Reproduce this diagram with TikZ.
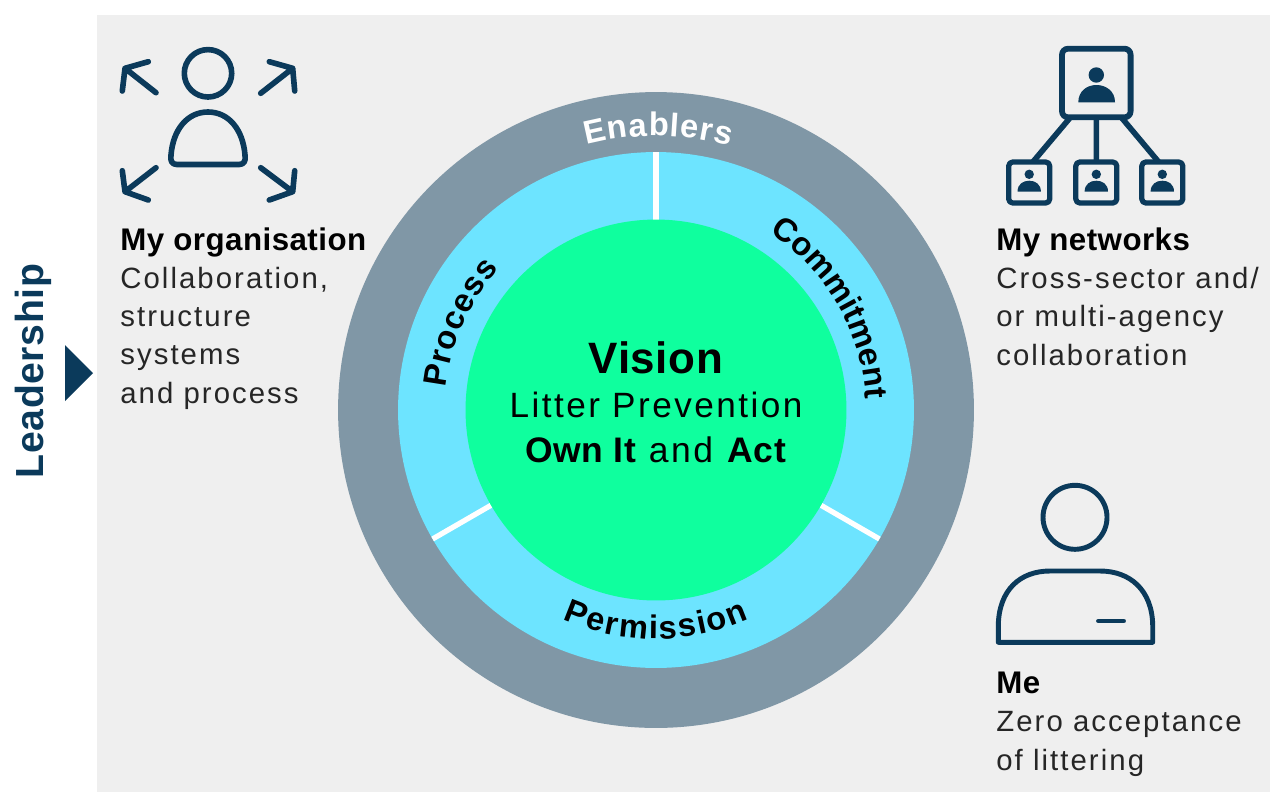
\documentclass[tikz,border=0pt]{standalone}
\usepackage{fontspec}
\setmainfont{Liberation Sans}[LetterSpace=7,BoldFeatures={LetterSpace=1.5}]
\usetikzlibrary{decorations.text}
\definecolor{panelgrey}{HTML}{EFEFEF}
\definecolor{ringgrey}{HTML}{8097A6}
\definecolor{ringblue}{HTML}{6DE4FF}
\definecolor{coregreen}{HTML}{0FFF9E}
\definecolor{icondark}{HTML}{0B3A5B}
\newfontfamily\ringfont{Liberation Sans Bold}
\newcommand\ringtext{\ringfont\fontsize{18.6}{20}\selectfont}
\newcommand\headtext{\color{black}\bfseries\fontsize{17.8}{21.7}\selectfont}
\tikzset{
	ring/.style={circle,minimum size=#1,inner sep=0pt,outer sep=0pt},
	blocktext/.style={anchor=base west,align=left,inner sep=0pt,text=black!85,font=\fontsize{16.7}{21.7}\selectfont},
	midtext/.style={anchor=base,inner sep=0pt,text=black,font=\fontsize{20}{24}\selectfont},
	iconline/.style={draw=icondark,line width=3.2pt},
	bigbox/.style={iconline,line width=3.3pt,fill=panelgrey,rounded corners=.12cm,minimum size=1.372cm,inner sep=0pt,outer sep=0pt},
	smallbox/.style={iconline,line width=3pt,rounded corners=.08cm,minimum size=.82cm,inner sep=0pt,outer sep=0pt},
	divider/.style={draw=white,line width=3pt,line cap=butt}
}
\begin{document}
\begin{tikzpicture}[x=.02cm,y=-.02cm,line join=round,line cap=round]
	\useasboundingbox (0,0) rectangle (1270,792);
	\fill[panelgrey] (97,15) rectangle (1270,792);
	% rings
	\node[ring=12.72cm,fill=ringgrey] (enablers) at (656,410) {};
	\node[ring=10.32cm,fill=ringblue] (enablerfield) at (656,410) {};
	\foreach \i/\j in {90/a,210/b,330/c}{
		\coordinate (div\j) at (enablerfield.\i);
	}
	\node[ring=7.62cm] (vision) at (656,410) {};
	\foreach \j/\i in {a/90,b/210,c/330}{
		\draw[divider] (vision.\i)--(div\j);
	}
	\node[ring=7.62cm,fill=coregreen] at (656,410) {};
	\begin{scope}[shift={(vision.center)},y=.02cm]
		\path[decorate,decoration={text along path,text align=fit to path,text={|\ringtext\color{white}|Enablers}}]
			(104.7:274) arc[start angle=104.7,end angle=74.3,radius=274];
		\path[decorate,decoration={text along path,text align=fit to path,text={|\ringtext\color{black}|Process}}]
			(174:211) arc[start angle=174,end angle=138,radius=211];
		\path[decorate,decoration={text along path,text align=fit to path,text={|\ringtext\color{black}|Commitment}}]
			(57.5:210) arc[start angle=57.5,end angle=3,radius=210];
		\path[decorate,decoration={text along path,text align=fit to path,text={|\ringtext\color{black}|Permission}}]
			(246:229) arc[start angle=246,end angle=294,radius=229];
	\end{scope}
	\node[midtext,font=\bfseries\fontsize{25}{28}\selectfont] (visiontitle) at (656,373) {Vision};
	\node[midtext] (visionline) at (656,417) {Litter Prevention};
	\node[midtext,font=\fontsize{20.2}{24}\selectfont] (visionact) at (656,462) {\textbf{Own It} and \textbf{Act}};
	% leadership
	\node[rotate=90,anchor=base,inner sep=0pt,text=icondark,font=\bfseries\fontsize{22.3}{26}\selectfont] (leadership) at (43.5,371) {Leadership};
	\fill[icondark] (65,345)--(93,373)--(65,401)--cycle;
	% my organisation
	\draw[iconline] (208,73.3) circle (23.7);
	\draw[iconline] (177,164.5) .. controls (172,164.5) and (170,161) .. (171,155) .. controls (173,130) and (187,112) .. (208,112) .. controls (229,112) and (243,130) .. (245,155) .. controls (246,161) and (244,164.5) .. (239,164.5) -- cycle;
	\foreach \ax/\ay/\tx/\ty/\bx/\by/\sx/\sy in {148.3/61.7/125/68.3/122.3/91/156/92.7,269.3/61.7/292.7/68.3/294.7/91/260.7/93.3,122.3/170.7/125/191.7/148.3/200/156/167.7,294.7/170.7/292.7/191.7/269.3/200/260.7/167.7}{
		\draw[iconline] (\ax,\ay)--(\tx,\ty)--(\bx,\by) (\sx,\sy)--(\tx,\ty);
	}
	\node[blocktext] (organisation) at (120,403) {{\headtext My organisation}\\Collaboration,\\structure\\systems\\and process};
	% my networks
	\node[bigbox] (lead) at (1096.3,83) {};
	\foreach \i/\j in {1029.2/1,1096.3/2,1162.3/3}{
		\node[smallbox] (net\j) at (\i,182.5) {};
		\fill[icondark] (\i,174.3) circle (4.7);
		\fill[icondark] (\i-11.7,191.7) .. controls (\i-11.7,184) and (\i-6,180.7) .. (\i,180.7) .. controls (\i+6,180.7) and (\i+11.7,184) .. (\i+11.7,191.7) -- cycle;
	}
	\draw[iconline,line cap=butt] (lead.-127)--(net1.80) (lead.south)--(net2.north) (lead.-54)--(net3.100);
	\fill[icondark] (1096.3,75) circle (7.7);
	\fill[icondark] (1078.3,102.3) .. controls (1078.3,91) and (1087,85) .. (1096.3,85) .. controls (1106,85) and (1115,91) .. (1115,102.3) -- cycle;
	\node[blocktext] (networks) at (996,365) {{\headtext My networks}\\Cross-sector and/\\or multi-agency\\collaboration};
	% me
	\draw[iconline,line width=2.8pt] (1075,517.3) circle (32);
	\draw[iconline,line width=2.8pt] (998.3,642.3)--(998.3,625) .. controls (999,590) and (1020,571) .. (1050,571) -- (1100,571) .. controls (1130,571) and (1152,590) .. (1152.7,625) -- (1152.7,642.3) -- cycle;
	\draw[iconline,line width=2.8pt] (1098.5,621)--(1123.5,621);
	\node[blocktext] (me) at (996,770) {{\headtext Me}\\Zero acceptance\\of littering};
\end{tikzpicture}
\end{document}
